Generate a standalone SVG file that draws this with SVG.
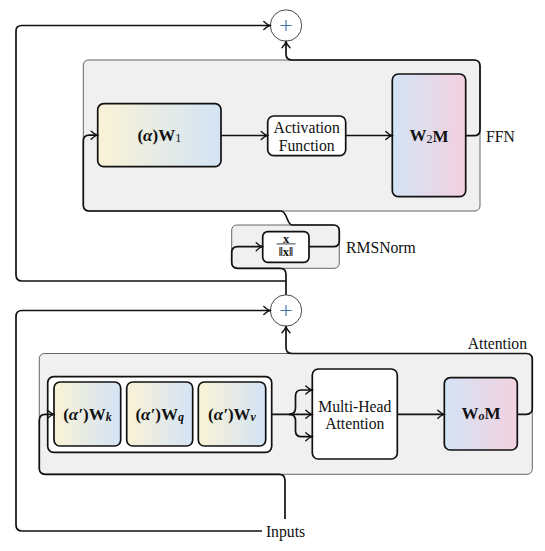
<svg xmlns="http://www.w3.org/2000/svg" width="545" height="551" viewBox="0 0 545 551" font-family="'Liberation Serif', 'DejaVu Serif', serif">
<style>
text{font-family:"Liberation Serif","DejaVu Serif",serif;fill:#111;}
.lbl{font-size:15.7px;dominant-baseline:central;}
.math{font-size:17px;font-weight:bold;dominant-baseline:central;}
.cont{fill:#f0f0f0;stroke:#555;stroke-width:0.9;}
.node{stroke:#111;stroke-width:1.7;}
.conn{fill:none;stroke:#111;stroke-width:1.7;}
.sum{fill:#fff;stroke:#333;stroke-width:0.9;}
.plus{stroke:#3d6fa8;stroke-width:1.1;}
</style>
<defs>
<linearGradient id="gYB" x1="0" y1="0" x2="1" y2="0">
<stop offset="0" stop-color="#faf2d6"/>
<stop offset="1" stop-color="#d3e4f5"/>
</linearGradient>
<linearGradient id="gBP" x1="0" y1="0" x2="1" y2="0">
<stop offset="0" stop-color="#d3e4f5"/>
<stop offset="1" stop-color="#f3d0df"/>
</linearGradient>
<marker id="arr" markerUnits="userSpaceOnUse" markerWidth="12" markerHeight="12" viewBox="-8 -6 10 12" refX="0" refY="0" orient="auto">
<path d="M -6 -4 Q -2.5 -0.8 0 0 Q -2.5 0.8 -6 4" fill="none" stroke="#111" stroke-width="1.4" stroke-linecap="round"/>
</marker>
</defs>

<g id="ffn">
<rect class="cont" x="83.3" y="60" width="396.7" height="151" rx="5"/>
<text class="lbl" x="486" y="136">FFN</text>
</g>
<g id="w1">
<rect class="node" x="97.7" y="103.7" width="123.3" height="63" rx="6" fill="url(#gYB)"/>
<text class="math" x="159.3" y="135" text-anchor="middle">(<tspan font-style="italic">α</tspan>)W<tspan font-size="12" font-weight="normal" dy="3">1</tspan></text>
</g>
<g id="act">
<rect class="node" x="267.7" y="116" width="78" height="39.7" rx="6" fill="#fff"/>
<text class="lbl" x="306.7" y="127.7" text-anchor="middle">Activation</text>
<text class="lbl" x="306.7" y="145.5" text-anchor="middle">Function</text>
</g>
<g id="w2m">
<rect class="node" x="392.3" y="74" width="73.4" height="122.7" rx="6" fill="url(#gBP)"/>
<text class="math" x="429" y="135.7" text-anchor="middle">W<tspan font-size="12" font-weight="normal" dy="3">2</tspan><tspan dy="-3">M</tspan></text>
</g>

<g id="rmsnorm">
<rect class="cont" x="231.7" y="225" width="107.6" height="43.3" rx="5"/>
<text class="lbl" x="346" y="247">RMSNorm</text>
</g>
<g id="norm">
<rect class="node" x="262.7" y="231.7" width="46.3" height="30.6" rx="5" fill="#fff"/>
<text x="286" y="238.6" text-anchor="middle" font-size="12.5" font-weight="bold" dominant-baseline="central">x</text>
<line x1="276.5" y1="243.9" x2="295.5" y2="243.9" stroke="#111" stroke-width="0.8"/>
<text x="286" y="252" text-anchor="middle" font-size="12.5" font-weight="bold" dominant-baseline="central">‖x‖</text>
</g>

<g id="sum1">
<circle class="sum" cx="286" cy="25.5" r="15.7"/>
<path class="plus" d="M 280.5 25.5 H 291.5 M 286 20 V 31"/>
</g>
<g id="sum2">
<circle class="sum" cx="286" cy="310.5" r="15.7"/>
<path class="plus" d="M 280.5 310.5 H 291.5 M 286 305 V 316"/>
</g>

<g id="attention">
<rect class="cont" x="39.3" y="353.5" width="493" height="120.8" rx="5"/>
<text class="lbl" x="527" y="343" text-anchor="end">Attention</text>
</g>
<g id="qkv">
<rect class="node" x="47.7" y="376.7" width="224" height="75.6" rx="6" fill="#fff"/>
</g>
<g id="wk">
<rect class="node" x="54" y="382" width="66.7" height="64" rx="6" fill="url(#gYB)"/>
<text class="math" x="87.4" y="414.3" text-anchor="middle">(<tspan font-style="italic">α′</tspan>)W<tspan font-size="12" font-style="italic" dy="3">k</tspan></text>
</g>
<g id="wq">
<rect class="node" x="126.7" y="382" width="66" height="64" rx="6" fill="url(#gYB)"/>
<text class="math" x="159.7" y="414.3" text-anchor="middle">(<tspan font-style="italic">α′</tspan>)W<tspan font-size="12" font-style="italic" dy="3">q</tspan></text>
</g>
<g id="wv">
<rect class="node" x="198.3" y="382" width="67.4" height="64" rx="6" fill="url(#gYB)"/>
<text class="math" x="232" y="414.3" text-anchor="middle">(<tspan font-style="italic">α′</tspan>)W<tspan font-size="12" font-style="italic" dy="3">v</tspan></text>
</g>
<g id="mha">
<rect class="node" x="312.3" y="369" width="85" height="90" rx="6" fill="#fff"/>
<text class="lbl" x="354.8" y="406" text-anchor="middle">Multi-Head</text>
<text class="lbl" x="354.8" y="423" text-anchor="middle">Attention</text>
</g>
<g id="wom">
<rect class="node" x="444.3" y="377.7" width="73" height="72.3" rx="6" fill="url(#gBP)"/>
<text class="math" x="481" y="413" text-anchor="middle">W<tspan font-size="12" font-style="italic" dy="3">o</tspan><tspan dy="-3">M</tspan></text>
</g>
<g id="inputs">
<text class="lbl" x="285.5" y="531" text-anchor="middle">Inputs</text>
</g>

<g id="connectors">
<path class="conn" d="M 465.7 135.7 H 474 Q 480 135.7 480 129.7 V 66 Q 480 60 474 60 H 292 Q 286 60 286 54 V 41.8" marker-end="url(#arr)"/>
<path class="conn" d="M 286 281 H 22 Q 16 281 16 275 V 31 Q 16 25.5 22 25.5 H 269.8" marker-end="url(#arr)"/>
<path class="conn" d="M 286 294.8 V 274.3 Q 286 268.3 280 268.3 H 237.7 Q 231.7 268.3 231.7 262.3 V 252.7 Q 231.7 246.7 237.7 246.7 H 262.2" marker-end="url(#arr)"/>
<path class="conn" d="M 309 246.7 H 333.3 Q 339.3 246.7 339.3 240.7 V 231 Q 339.3 225 333.3 225 H 292 C 287 225 287 211 281 211 H 89.3 Q 83.3 211 83.3 205 V 141 Q 83.3 135.2 89.3 135.2 H 97.2" marker-end="url(#arr)"/>
<path class="conn" d="M 221 135.5 H 267.2" marker-end="url(#arr)"/>
<path class="conn" d="M 345.7 135.5 H 391.8" marker-end="url(#arr)"/>
<path class="conn" d="M 262 531 H 22 Q 16 531 16 525 V 316.5 Q 16 310.5 22 310.5 H 269.8" marker-end="url(#arr)"/>
<path class="conn" d="M 285 519 V 480.3 Q 285 474.3 279 474.3 H 45.3 Q 39.3 474.3 39.3 468.3 V 420.3 Q 39.3 414.3 45.3 414.3 H 53.5" marker-end="url(#arr)"/>
<path class="conn" d="M 271.7 414.3 H 311.8" marker-end="url(#arr)"/>
<path class="conn" d="M 289 414.3 Q 295.5 414.3 295.5 408 V 396 Q 295.5 390 301.5 390 H 311.8" marker-end="url(#arr)"/>
<path class="conn" d="M 289 414.3 Q 295.5 414.3 295.5 420.6 V 430.7 Q 295.5 436.7 301.5 436.7 H 311.8" marker-end="url(#arr)"/>
<path class="conn" d="M 397.3 414.3 H 443.8" marker-end="url(#arr)"/>
<path class="conn" d="M 517.3 414.3 H 526.3 Q 532.3 414.3 532.3 408.3 V 359.5 Q 532.3 353.5 526.3 353.5 H 292 Q 286 353.5 286 347.5 V 326.7" marker-end="url(#arr)"/>
</g>
</svg>
